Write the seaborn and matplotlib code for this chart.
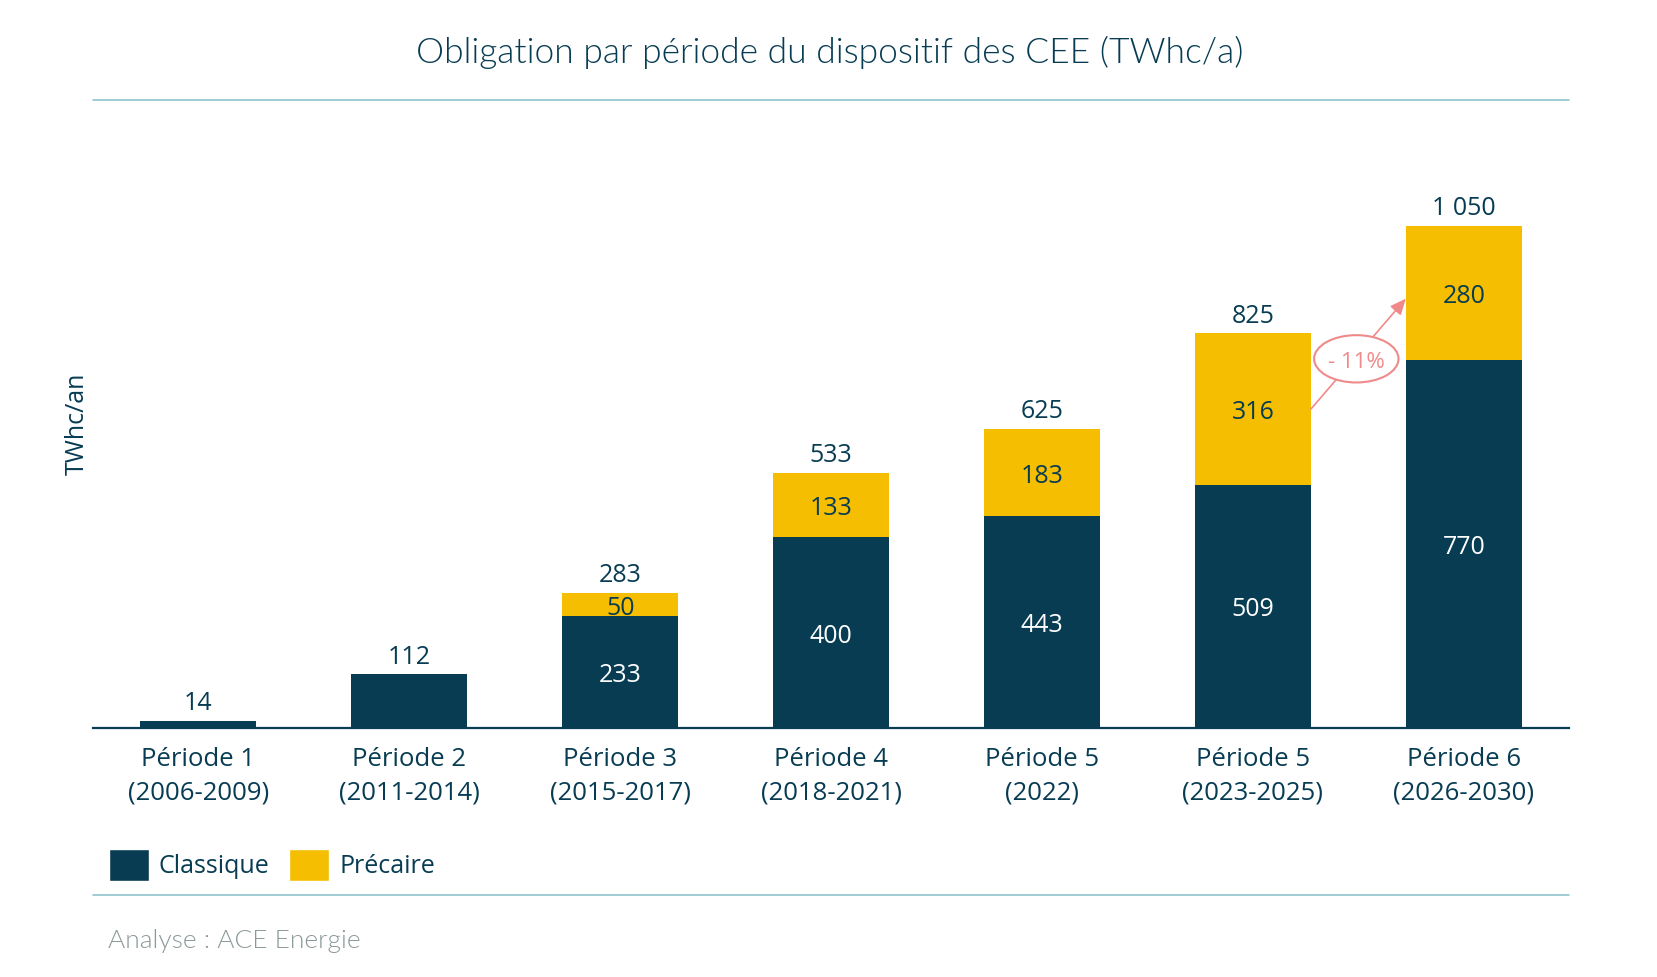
import numpy as np
import pandas as pd
import matplotlib.pyplot as plt
import seaborn as sns
from matplotlib.lines import Line2D
from matplotlib.patches import Patch, Ellipse

# data
periodes = ["Période 1\n(2006-2009)", "Période 2\n(2011-2014)", "Période 3\n(2015-2017)",
            "Période 4\n(2018-2021)", "Période 5\n(2022)", "Période 5\n(2023-2025)",
            "Période 6\n(2026-2030)"]
classique = [14, 112, 233, 400, 443, 509, 770]
precaire = [0, 0, 50, 133, 183, 316, 280]
totaux = ["14", "112", "283", "533", "625", "825", "1 050"]
variation = "- 11%"

NAVY = "#073C53"
YELLOW = "#F5BE00"
LINE = "#8FC4CC"
PINK = "#F08A8A"

sns.set_theme(style="white")
plt.rcParams['font.family'] = ['Open Sans', 'DejaVu Sans']

df = pd.DataFrame({"periode": periodes, "classique": classique, "precaire": precaire})
df["total"] = df["classique"] + df["precaire"]

fig = plt.figure(figsize=(16.57, 9.77), dpi=100)
ax = fig.add_axes([0.0561, 0.2551, 0.891, 0.587])

sns.barplot(data=df, x="periode", y="total", color=YELLOW, width=0.55,
            saturation=1, linewidth=0, ax=ax)
sns.barplot(data=df, x="periode", y="classique", color=NAVY, width=0.55,
            saturation=1, linewidth=0, ax=ax)

ax.set_xlim(-0.5, len(periodes) - 0.5)
ax.set_ylim(0, 1200)

lbl = dict(ha="center", va="center", fontsize=18)
dy = -8  # small visual correction of the text centre
for i, row in df.iterrows():
    ax.text(i, row["total"] + 44 + dy, totaux[i], color=NAVY, **lbl)
    if row["precaire"] > 0:
        ax.text(i, row["classique"] / 2 + dy, str(row["classique"]), color="white", **lbl)
        ax.text(i, row["classique"] + row["precaire"] / 2 + dy, str(row["precaire"]),
                color=NAVY, **lbl)

# variation arrow between the two last periods
y0 = df["classique"][5] + df["precaire"][5] / 2
y1 = df["classique"][6] + df["precaire"][6] / 2
ax.annotate("", xy=(6 - 0.275, y1 - 12), xytext=(5 + 0.275, y0),
            arrowprops=dict(arrowstyle="-|>,head_length=0.8,head_width=0.35",
                            color=PINK, lw=1.2, shrinkA=0, shrinkB=0))
ax.add_patch(Ellipse((5.49, 772), 0.4, 99, facecolor="white",
                     edgecolor=PINK, lw=1.5, zorder=5))
ax.text(5.49, 772 + dy, variation, color=PINK, fontsize=16,
        ha="center", va="center", zorder=6)

ax.set_xlabel("")
ax.set_ylabel("TWhc/an", color=NAVY, fontsize=18)
ax.yaxis.set_label_coords(-0.002, 0.53)
ax.set_yticks([])
ax.tick_params(axis="x", length=0, pad=14, labelsize=18.5, labelcolor=NAVY)
for t in ax.get_xticklabels():
    t.set_linespacing(1.45)
for s in ["top", "right", "left"]:
    ax.spines[s].set_visible(False)
ax.spines["bottom"].set_color(NAVY)
ax.spines["bottom"].set_linewidth(1.6)

fig.text(0.501, 0.946, "Obligation par période du dispositif des CEE (TWhc/a)",
         ha="center", va="center", fontsize=25.5, color=NAVY, fontweight=300,
         family=["Lato", "DejaVu Sans"])

for yy in [0.898, 0.0843]:
    fig.add_artist(Line2D([0.0561, 0.947], [yy, yy], color=LINE, lw=1.2))

handles = [Patch(facecolor=NAVY), Patch(facecolor=YELLOW)]
fig.legend(handles, ["Classique", "Précaire"], loc="center left",
           bbox_to_anchor=(0.052, 0.115), ncol=2, frameon=False, fontsize=18,
           handlelength=1.6, handleheight=1.6, handletextpad=0.4, columnspacing=0.8,
           labelcolor=NAVY)

fig.text(0.065, 0.037, "Analyse : ACE Energie", ha="left", va="center",
         fontsize=19, color="#8C9999", fontweight=300, family=["Lato", "DejaVu Sans"])

fig.savefig("out.png", dpi=100)
